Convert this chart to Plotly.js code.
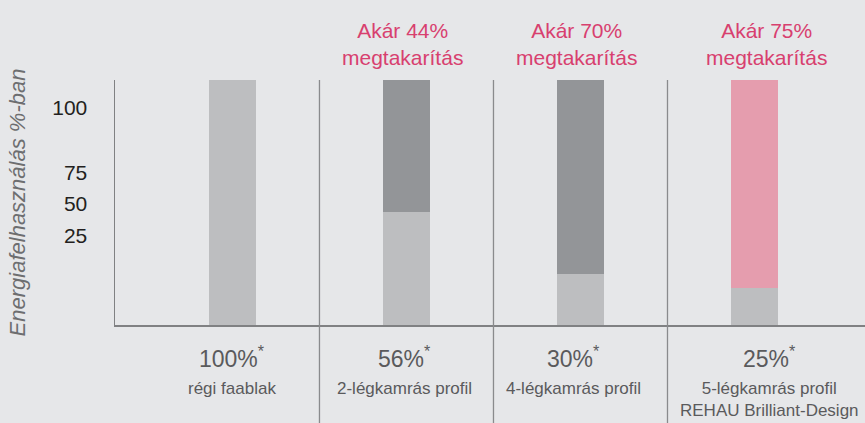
<!DOCTYPE html>
<html><head><meta charset="utf-8">
<script src="https://cdn.plot.ly/plotly-3.0.1.min.js"></script>
<style>html,body{margin:0;padding:0;background:#e6e7e9;}</style>
</head><body><div id="chart" style="width:865px;height:423px;"></div>
<script>
const categories = ['régi faablak', '2-légkamrás profil', '4-légkamrás profil', '5-légkamrás profil<br>REHAU Brilliant-Design'];
const usage = [100, 46, 21, 15];
const savings = [0, 54, 79, 85];
const percentLabels = ['100%', '56%', '30%', '25%'];
const savingsLabels = ['', 'Akár 44%<br>megtakarítás', 'Akár 70%<br>megtakarítás', 'Akár 75%<br>megtakarítás'];
const tickVals = [88.6, 62.0, 49.4, 36.3];
const tickText = ['100', '75', '50', '25'];

const FONT = '"Liberation Sans Narrow", "Arial Narrow", "Liberation Sans", Arial, sans-serif';
const idx = categories.map((c, i) => i);
const topColors = ['#939598', '#939598', '#939598', '#e59dae'];
const bottomShift = [0, -2, -7, 15];
const topShift = [0, -4, -4, 12];

const traces = [
  {type: 'bar', x: idx, y: usage, marker: {color: '#bdbec0'}, width: 0.27, hoverinfo: 'skip'},
  {type: 'bar', x: idx, y: savings, marker: {color: topColors}, width: 0.27, hoverinfo: 'skip'}
];

const annotations = [];
idx.forEach(i => {
  annotations.push({x: i, xref: 'x', y: -0.131, yref: 'paper', yanchor: 'middle', showarrow: false,
    text: percentLabels[i] + '<sup>*</sup>', font: {family: FONT, size: 23, color: '#5a5a5c'}, xshift: bottomShift[i]});
  annotations.push({x: i, xref: 'x', y: -0.212, yref: 'paper', yanchor: 'top', showarrow: false,
    text: categories[i], font: {family: FONT, size: 17, color: '#5a5a5c'}, xshift: bottomShift[i]});
  if (savingsLabels[i]) {
    annotations.push({x: i, xref: 'x', y: 1.035, yref: 'paper', yanchor: 'bottom', showarrow: false,
      text: savingsLabels[i], font: {family: FONT, size: 21, color: '#d8406f'}, xshift: topShift[i]});
  }
});

const shapes = [0.5, 1.5, 2.5].map(v => ({type: 'line', xref: 'x', yref: 'paper', x0: v, x1: v, y0: -0.4, y1: 1,
  line: {color: '#8a8b8d', width: 1.3}}));

const layout = {
  width: 865, height: 423,
  margin: {l: 115, r: 0, t: 80, b: 98},
  paper_bgcolor: '#e6e7e9', plot_bgcolor: '#e6e7e9',
  barmode: 'stack', showlegend: false,
  xaxis: {range: [-0.675, 3.635], showticklabels: false, showgrid: false, zeroline: false,
    showline: true, linecolor: '#808183', linewidth: 1.5, ticks: ''},
  yaxis: {range: [0, 100], tickvals: tickVals, ticktext: tickText, showgrid: false, zeroline: false,
    showline: true, linecolor: '#808183', linewidth: 1.5, ticks: '', ticklabelstandoff: 22,
    tickfont: {family: FONT, size: 21, color: '#231f20'},
    title: {text: '<i>Energiafelhasználás %-ban</i>', font: {family: FONT, size: 22, color: '#6d6e70'}, standoff: 20}},
  annotations: annotations, shapes: shapes,
  font: {family: FONT}
};
Plotly.newPlot('chart', traces, layout, {displayModeBar: false, staticPlot: true});
</script></body></html>
